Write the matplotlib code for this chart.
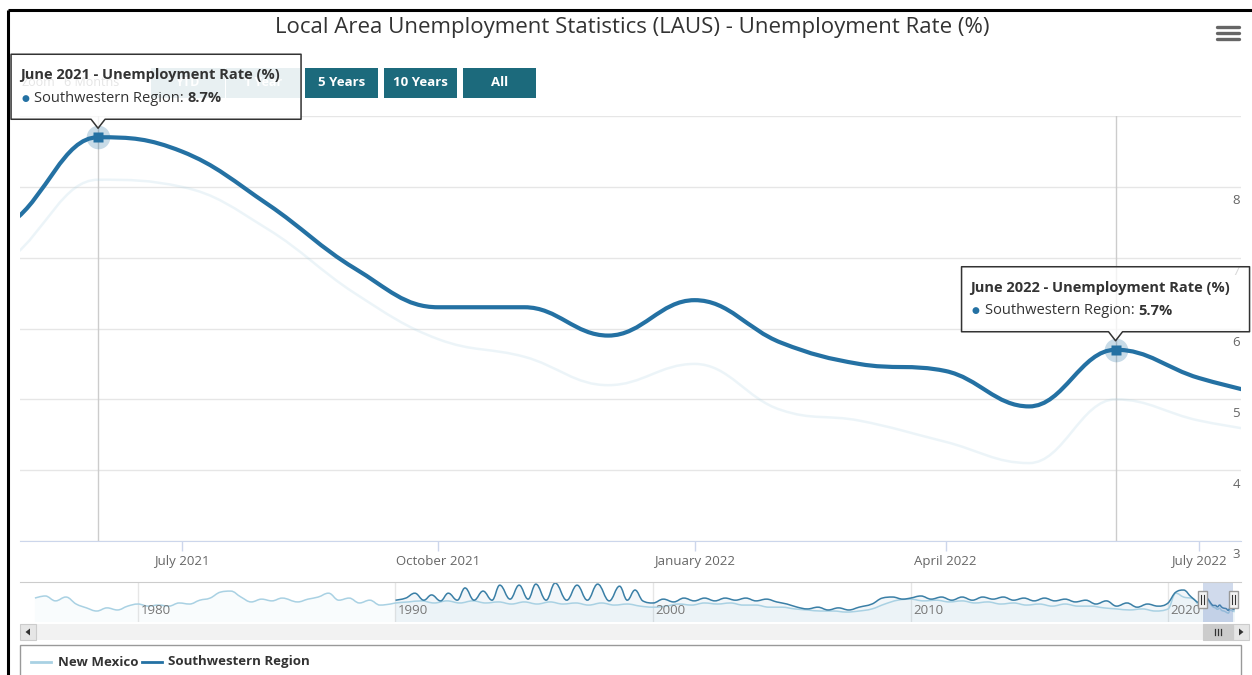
import matplotlib
matplotlib.use('Agg')
import matplotlib.pyplot as plt
import matplotlib.dates as mdates
from matplotlib.path import Path
from matplotlib.patches import PathPatch, Rectangle, Polygon
from matplotlib.transforms import offset_copy
import numpy as np
import pandas as pd

plt.rcParams['font.family'] = ['Open Sans', 'DejaVu Sans']

W, H = 1252, 675

# ---- main series (monthly) ----
months = pd.date_range('2021-04-01', '2022-08-01', freq='MS')
southwestern = [7.0, 7.5, 8.7, 8.5, 7.75, 6.85, 6.3, 6.3, 5.9, 6.4, 5.8, 5.5, 5.4, 4.9, 5.7, 5.3, 5.0]
new_mexico = [6.2, 7.0, 8.1, 8.0, 7.4, 6.5, 5.85, 5.6, 5.2, 5.5, 4.85, 4.7, 4.4, 4.1, 5.0, 4.7, 4.5]
highlight = ['2021-06-01', '2022-06-01']
view = ['2021-05-04', '2022-07-16']

tick_dates = ['2021-07-01', '2021-10-01', '2022-01-01', '2022-04-01', '2022-07-01']
tick_labels = ['July 2021', 'October 2021', 'January 2022', 'April 2022', 'July 2022']
y_grid = [3, 4, 5, 6, 7, 8, 9]
y_labels = [3, 4, 5, 6, 7, 8]

# ---- navigator history ----
nav_nm_years = [1976.0, 1976.4, 1976.8, 1977.2, 1977.6, 1978.0, 1978.4, 1978.8, 1979.2, 1979.6,
                1980.0, 1980.4, 1980.8, 1981.2, 1981.6, 1982.0, 1982.4, 1982.8, 1983.2, 1983.6,
                1984.0, 1984.4, 1984.8, 1985.2, 1985.6, 1986.2, 1986.6, 1987.0, 1987.4, 1987.8,
                1988.2, 1988.6, 1989.0, 1989.4, 1989.8,
                1990.0, 1990.5, 1991.0, 1991.5, 1992.0, 1992.5, 1993.0, 1993.5, 1994.0, 1994.5,
                1995.0, 1995.5, 1996.0, 1996.5, 1997.0, 1997.5, 1998.0, 1998.5, 1999.0, 1999.5,
                2000.0, 2000.5, 2001.0, 2001.5, 2002.0, 2002.5, 2003.0, 2003.5, 2004.0, 2004.5,
                2005.0, 2005.5, 2006.0, 2006.5, 2007.0, 2007.5, 2008.0, 2008.5, 2009.0, 2009.5,
                2010.0, 2010.5, 2011.0, 2011.5, 2012.0, 2012.5, 2013.0, 2013.5, 2014.0, 2014.5,
                2015.0, 2015.5, 2016.0, 2016.5, 2017.0, 2017.5, 2018.0, 2018.5, 2019.0, 2019.5,
                2020.0, 2020.3, 2020.6, 2021.0]
nav_nm = [8.4, 9.0, 7.6, 8.7, 6.7, 5.6, 4.7, 5.6, 5.0, 6.1,
          6.7, 6.1, 6.4, 6.1, 7.0, 6.7, 7.8, 8.4, 10.1, 10.4,
          8.7, 7.3, 8.1, 7.6, 8.4, 7.3, 8.1, 8.7, 9.8, 7.8,
          8.4, 7.0, 7.8, 6.4, 6.7,
          7.0, 7.3, 7.6, 7.0, 7.6, 7.0, 7.6, 7.0, 7.3, 6.7,
          7.3, 6.7, 7.3, 6.7, 7.0, 6.4, 7.0, 6.4, 6.7, 6.1,
          5.8, 6.1, 6.7, 6.4, 7.0, 6.7, 7.0, 6.4, 6.4, 5.8,
          5.8, 5.3, 5.0, 4.7, 4.7, 4.4, 4.7, 5.3, 6.7, 7.8,
          8.1, 7.6, 7.8, 7.3, 7.6, 7.0, 7.3, 6.7, 7.0, 6.4,
          6.7, 6.1, 6.7, 6.1, 6.1, 5.6, 5.3, 5.0, 5.3, 4.7,
          5.3, 9.8, 8.7, 8.1]

nav_sw_years = [1990.0, 1990.4, 1990.75, 1991.1, 1991.4, 1991.75, 1992.05, 1992.4, 1992.7, 1993.05,
                1993.4, 1993.75, 1994.05, 1994.45, 1994.8, 1995.15, 1995.45, 1995.85, 1996.2, 1996.65,
                1997.05, 1997.45, 1997.85, 1998.3, 1998.7, 1999.0, 1999.3, 1999.6,
                2000.0, 2000.4, 2000.8, 2001.2, 2001.6, 2002.0, 2002.4, 2002.8, 2003.2, 2003.6,
                2004.0, 2004.4, 2004.8, 2005.2, 2005.6, 2006.0, 2006.4, 2006.8, 2007.2, 2007.6,
                2008.0, 2008.5, 2008.9, 2009.3, 2009.7, 2010.0, 2010.4, 2010.8, 2011.2, 2011.6,
                2012.0, 2012.4, 2012.8, 2013.2, 2013.6, 2014.0, 2014.4, 2014.8, 2015.2, 2015.6,
                2016.0, 2016.4, 2016.8, 2017.2, 2017.6, 2018.0, 2018.4, 2018.8, 2019.2, 2019.6,
                2020.0, 2020.3, 2020.6, 2020.9]
nav_sw = [7.8, 8.4, 9.8, 7.8, 9.3, 7.6, 9.8, 7.8, 11.3, 7.8,
          10.4, 7.8, 12.1, 8.1, 12.1, 8.1, 12.4, 7.8, 12.7, 7.8,
          12.1, 7.8, 12.4, 7.6, 11.8, 7.8, 10.7, 7.6,
          7.0, 8.1, 7.3, 8.4, 7.6, 8.4, 7.6, 8.4, 7.8, 8.4,
          7.6, 8.1, 7.3, 6.7, 5.8, 5.3, 5.8, 5.0, 5.6, 5.0,
          5.8, 6.7, 8.4, 8.7, 8.1, 8.4, 9.0, 8.1, 8.7, 7.8,
          8.7, 7.8, 8.7, 8.1, 8.7, 7.8, 8.4, 7.6, 8.4, 7.6,
          8.1, 7.3, 7.8, 6.7, 7.6, 6.1, 7.0, 5.8, 6.7, 6.1,
          7.0, 10.1, 10.7, 8.7]
nav_ticks = [1980, 1990, 2000, 2010, 2020]

buttons = ['5 Years', '10 Years', 'All']
hidden_buttons = ['YTD', '1 Year']

SW = '#2471a3'
NM = '#a9d1e3'
TEAL = '#1c6a7c'
GREY = '#666666'


def rect(x0, y0, x1, y1):
    return [x0 / W, 1 - y1 / H, (x1 - x0) / W, (y1 - y0) / H]


def spline_verts(xs, ys, smoothing=1.5):
    # highcharts style spline through every point
    pts = list(zip(xs, ys))
    n = len(pts)
    left = [None] * n
    right = [None] * n
    d = smoothing + 1
    for i in range(1, n - 1):
        x, y = pts[i]
        lx, ly = pts[i - 1]
        nx, ny = pts[i + 1]
        lcx, lcy = (smoothing * x + lx) / d, (smoothing * y + ly) / d
        rcx, rcy = (smoothing * x + nx) / d, (smoothing * y + ny) / d
        if rcx != lcx:
            corr = (rcy - lcy) * (rcx - x) / (rcx - lcx) + y - rcy
            lcy += corr
            rcy += corr
        if lcy > ly and lcy > y:
            lcy = max(ly, y); rcy = 2 * y - lcy
        elif lcy < ly and lcy < y:
            lcy = min(ly, y); rcy = 2 * y - lcy
        if rcy > ny and rcy > y:
            rcy = max(ny, y); lcy = 2 * y - rcy
        elif rcy < ny and rcy < y:
            rcy = min(ny, y); lcy = 2 * y - rcy
        left[i] = (lcx, lcy)
        right[i] = (rcx, rcy)
    verts = [pts[0]]
    codes = [Path.MOVETO]
    for i in range(1, n):
        verts += [right[i - 1] or pts[i - 1], left[i] or pts[i], pts[i]]
        codes += [Path.CURVE4] * 3
    return verts, codes


def spline_path(xs, ys):
    return Path(*spline_verts(xs, ys))


def spline_area(xs, ys, base):
    verts, codes = spline_verts(xs, ys)
    verts = verts + [(xs[-1], base), (xs[0], base), (xs[0], base)]
    codes = codes + [Path.LINETO, Path.LINETO, Path.CLOSEPOLY]
    return Path(verts, codes)


fig = plt.figure(figsize=(W / 100, H / 100), dpi=100)
fig.patch.set_facecolor('white')

# ---- main chart ----
ax = fig.add_axes(rect(20, 116, 1241, 541))
xnum = mdates.date2num(months)
ax.add_patch(PathPatch(spline_path(xnum, new_mexico), fill=False, ec=NM, alpha=0.22, lw=1.8, zorder=3))
ax.add_patch(PathPatch(spline_path(xnum, southwestern), fill=False, ec=SW, lw=3.0,
                       capstyle='round', joinstyle='round', zorder=4))
ax.set_xlim(mdates.date2num(pd.to_datetime(view)))
ax.set_ylim(3, 9)

ax.set_yticks(y_grid)
ax.grid(axis='y', color='#e6e6e6', lw=1)
ax.tick_params(axis='y', length=0, labelleft=False)
ax.set_xticks(mdates.date2num(pd.to_datetime(tick_dates)))
ax.set_xticklabels(tick_labels)
ax.tick_params(axis='x', direction='out', length=7.5, color='#ccd6eb', width=1,
               labelcolor=GREY, labelsize=9.5, pad=2.5)
for s in ['top', 'left', 'right']:
    ax.spines[s].set_visible(False)
ax.spines['bottom'].set_color('#ccd6eb')

ytrans = offset_copy(ax.get_yaxis_transform(), fig=fig, x=-1, y=-14, units='dots')
for v in y_labels:
    ax.text(1.0, v, str(v), transform=ytrans, ha='right', va='center',
            fontsize=9.5, color=GREY, clip_on=False)

anchors = []
for d in highlight:
    i = list(months).index(pd.Timestamp(d))
    ax.axvline(xnum[i], color='#cccccc', lw=1, zorder=2)
    ax.plot(xnum[i], southwestern[i], 'o', ms=17, color=SW, alpha=0.25, mec='none', zorder=5, clip_on=False)
    ax.plot(xnum[i], southwestern[i], 's', ms=6.5, color=SW, mec='none', zorder=6)
    px, py = ax.transData.transform((xnum[i], southwestern[i]))
    anchors.append((px, H - py, months[i], southwestern[i]))

# ---- navigator ----
nav = fig.add_axes(rect(20, 582, 1241, 622))
main_years = months.year + (months.month - 1) / 12
nm_all_x = list(nav_nm_years) + list(main_years)
nm_all_y = list(nav_nm) + list(new_mexico)
sw_all_x = list(nav_sw_years) + list(main_years)
sw_all_y = list(nav_sw) + list(southwestern)
ylo = 1.56
nav.add_patch(PathPatch(spline_area(nm_all_x, nm_all_y, ylo), fc=NM, alpha=0.06, lw=0))
nav.add_patch(PathPatch(spline_area(sw_all_x, sw_all_y, ylo), fc=SW, alpha=0.06, lw=0))
nav.add_patch(PathPatch(spline_path(nm_all_x, nm_all_y), fill=False, ec=NM, lw=1.1))
nav.add_patch(PathPatch(spline_path(sw_all_x, sw_all_y), fill=False, ec='#3a7fa6', lw=1.1))
nav.set_xlim(1975.42, 2022.83)
nav.set_ylim(ylo, 13.0)
v0, v1 = pd.to_datetime(view)
sel0 = v0.year + (v0.dayofyear - 1) / 365
sel1 = v1.year + (v1.dayofyear - 1) / 365
nav.axvspan(sel0, sel1, color='#6685c2', alpha=0.3, lw=0)
for yr in nav_ticks:
    nav.axvline(yr, color='#e6e6e6', lw=1, zorder=0)
    nav.text(yr + 0.1, 0.28, str(yr), transform=nav.get_xaxis_transform(),
             fontsize=9.5, color='#777777', va='center', ha='left')
nav.set_xticks([])
nav.set_yticks([])
for s in ['left', 'right', 'bottom']:
    nav.spines[s].set_visible(False)
nav.spines['top'].set_color('#cccccc')
nav.patch.set_alpha(0)

# ---- overlay for chrome ----
ov = fig.add_axes([0, 0, 1, 1], zorder=10)
ov.set_xlim(0, W)
ov.set_ylim(H, 0)
ov.axis('off')
ov.patch.set_alpha(0)
renderer = fig.canvas.get_renderer()

# frame of the screenshot
ov.plot([8, 8], [10, H], color='black', lw=2.2, solid_capstyle='butt')
ov.plot([8, W], [10, 10], color='black', lw=2.2, solid_capstyle='butt')

ov.text(632, 28, 'Local Area Unemployment Statistics (LAUS) - Unemployment Rate (%)',
        ha='center', va='center', fontsize=16, color='#333333')
for yy in [27, 33, 39]:
    ov.plot([1217, 1239], [yy, yy], color=GREY, lw=2.4, solid_capstyle='round')

# range selector (mostly hidden under the first tooltip)
ov.text(22, 83, 'Zoom', fontsize=9, color='#999999', va='center')
ov.text(64, 83, '6 Months', fontsize=9, color='#999999', va='center')
bx = 151
for lab in hidden_buttons:
    ov.add_patch(Rectangle((bx, 68), 74, 30, fc='#a8c4cc', ec='none', zorder=1))
    ov.text(bx + 37, 83, lab, ha='center', va='center', fontsize=9, color='white', weight='bold', zorder=2)
    bx += 75
bx = 305
for lab in buttons:
    ov.add_patch(Rectangle((bx, 68), 73, 30, fc=TEAL, ec='none', zorder=1))
    ov.text(bx + 36.5, 83, lab, ha='center', va='center', fontsize=9.5, color='white', weight='bold', zorder=2)
    bx += 79


def tooltip(px, py, when, value, left, right):
    l, r = px + left, px + right
    t, b = py - 83, py - 18
    poly = [(l, t), (r, t), (r, b), (px + 7, b), (px, py - 9), (px - 7, b), (l, b)]
    ov.add_patch(Polygon(poly, closed=True, fc=(1, 1, 1, 0.75), ec='#333333', lw=1.1,
                         joinstyle='round', zorder=20))
    ov.text(l + 9, t + 21, f'{when:%B %Y} - Unemployment Rate (%)', fontsize=10.5,
            weight='bold', color='#333333', va='center', zorder=21)
    ov.text(l + 10, t + 44, '●', fontsize=6.5, color=SW, va='center', zorder=21)
    t1 = ov.text(l + 23, t + 44, 'Southwestern Region:', fontsize=10.5, color='#333333',
                 va='center', zorder=21)
    w = t1.get_window_extent(renderer).width
    ov.text(l + 23 + w + 4, t + 44, f'{value:.1f}%', fontsize=10.5, weight='bold',
            color='#333333', va='center', zorder=21)


(p1x, p1y, d1, val1), (p2x, p2y, d2, val2) = anchors
tooltip(p1x, p1y, d1, val1, -87, 203)
tooltip(p2x, p2y, d2, val2, -154, 134)

# navigator handles
for yr in [sel0, sel1]:
    hx, _ = nav.transData.transform((yr, 0))
    ov.add_patch(Rectangle((hx - 4.5, 591), 9, 17, fc='#f2f2f2', ec='#999999', lw=1, zorder=5))
    for dx in [-1.5, 1.5]:
        ov.plot([hx + dx, hx + dx], [595, 604], color='#333333', lw=0.8, zorder=6)

# scrollbar
ov.add_patch(Rectangle((20, 624), 1229, 16, fc='#f2f2f2', ec='none'))
ov.add_patch(Rectangle((20, 624), 16, 16, fc='#e6e6e6', ec='#cccccc', lw=0.8))
ov.add_patch(Rectangle((1233, 624), 16, 16, fc='#e6e6e6', ec='#cccccc', lw=0.8))
ov.add_patch(Polygon([(30, 628.5), (30, 635.5), (25.5, 632)], closed=True, fc='#333333', ec='none'))
ov.add_patch(Polygon([(1239, 628.5), (1239, 635.5), (1243.5, 632)], closed=True, fc='#333333', ec='none'))
s0, _ = nav.transData.transform((sel0, 0))
s1, _ = nav.transData.transform((sel1, 0))
ov.add_patch(Rectangle((s0, 624), s1 - s0, 16, fc='#cccccc', ec='#cccccc', lw=0.8))
for dx in [-3, 0, 3]:
    ov.plot([(s0 + s1) / 2 + dx] * 2, [629, 635], color='#333333', lw=0.9)

# legend
ov.add_patch(Rectangle((20, 645), 1221, 40, fc='white', ec='#999999', lw=1))
ov.plot([31, 51], [662, 662], color=NM, lw=2)
t = ov.text(58, 662, 'New Mexico', fontsize=9.5, weight='bold', color='#333333', va='center')
x2 = 58 + t.get_window_extent(renderer).width + 3
ov.plot([x2, x2 + 20], [662, 662], color=SW, lw=2)
ov.text(x2 + 26, 662, 'Southwestern Region', fontsize=9.5, weight='bold', color='#333333', va='center')

fig.savefig('out.png', dpi=100)
